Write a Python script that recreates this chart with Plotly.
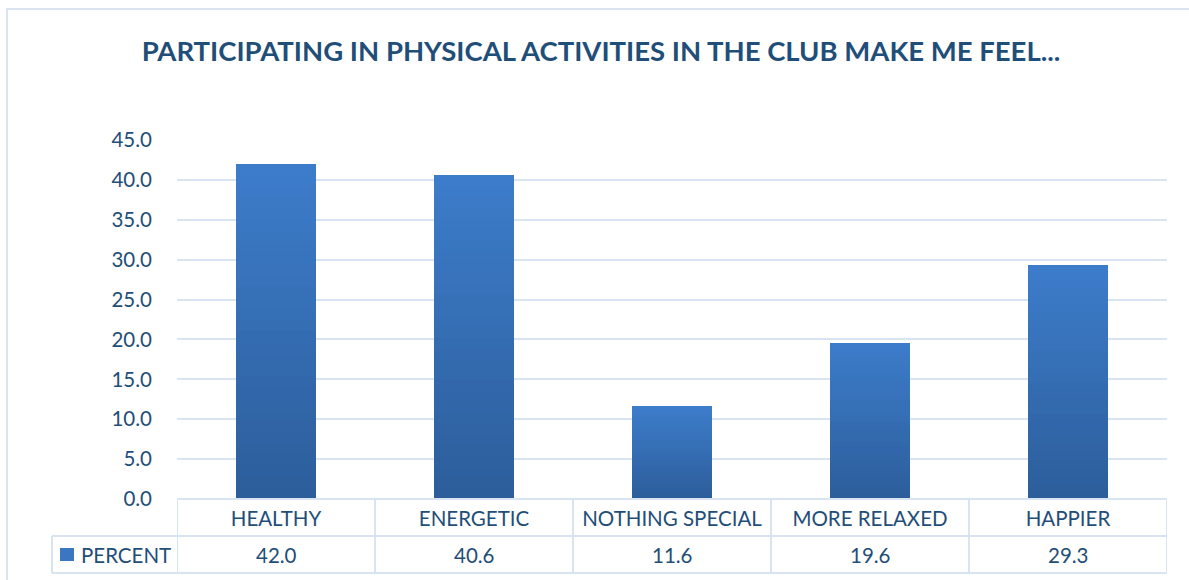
import plotly.graph_objects as go

# Survey responses: share of members reporting each feeling
categories = ["HEALTHY", "ENERGETIC", "NOTHING SPECIAL", "MORE RELAXED", "HAPPIER"]
percent = [42.0, 40.6, 11.6, 19.6, 29.3]
series_name = "PERCENT"
y_ticks = [0, 5, 10, 15, 20, 25, 30, 35, 40, 45]

W, H = 1189, 580
L, R, T, B = 177, 22, 140, 81
plot_w = W - L - R
plot_h = H - T - B

TEXT = "#1f4e79"
GRID = "#d9e4f2"
LIGHT = (0x3d, 0x7d, 0xcb)
DARK = (0x2c, 0x5d, 0x9a)
FS = 20.5


def px_x(px):
    return (px - L) / plot_w


def px_y(px):
    return (H - B - px) / plot_h


def mix(f):
    # f = 0 -> bottom (dark), f = 1 -> top (light)
    c = [round(d + (l - d) * f) for l, d in zip(LIGHT, DARK)]
    return "rgb({},{},{})".format(*c)


fig = go.Figure()

# Vertical gradient: full-height light bar, then progressively shorter, darker bars on top
N = 30
for k in range(N):
    scale = 1 - k / N
    fig.add_trace(go.Bar(
        x=categories,
        y=[v * scale for v in percent],
        width=0.4,
        marker=dict(color=mix(1 - (k + 0.5) / N), line=dict(width=0)),
        name=series_name,
        showlegend=False,
        hoverinfo="skip" if k else "x+y",
    ))

# Data table: value row under the category header row
row_h = (536 - 499) / plot_h
for c, v in zip(categories, percent):
    fig.add_annotation(x=c, xref="x", y=-1.5 * row_h, yref="paper",
                       text=f"{v:.1f}", showarrow=False, yanchor="middle",
                       font=dict(size=FS, color=TEXT, family="Lato"))

# Legend key in the table's first column
fig.add_annotation(x=px_x(79), xref="paper", y=-1.5 * row_h, yref="paper",
                   text=series_name, showarrow=False, xanchor="left", yanchor="middle",
                   font=dict(size=FS, color=TEXT, family="Lato"))

shapes = []
line = dict(color=GRID, width=2)
# table horizontal rules
shapes.append(dict(type="line", xref="paper", yref="paper", x0=0, x1=1, y0=0, y1=0, line=line))
shapes.append(dict(type="line", xref="paper", yref="paper", x0=px_x(52), x1=1,
                   y0=-row_h, y1=-row_h, line=line))
shapes.append(dict(type="line", xref="paper", yref="paper", x0=px_x(52), x1=1,
                   y0=-2 * row_h, y1=-2 * row_h, line=line))
# table vertical rules between categories
for i in range(len(categories) + 1):
    shapes.append(dict(type="line", xref="x", yref="paper", x0=i - 0.5, x1=i - 0.5,
                       y0=0, y1=-2 * row_h, line=line))
shapes.append(dict(type="line", xref="paper", yref="paper", x0=px_x(52), x1=px_x(52),
                   y0=-row_h, y1=-2 * row_h, line=line))
# legend swatch
shapes.append(dict(type="rect", xref="paper", yref="paper",
                   x0=px_x(60), x1=px_x(74), y0=px_y(561), y1=px_y(548),
                   fillcolor="#3a76c2", line=dict(width=0)))
# chart frame
shapes.append(dict(type="rect", xref="paper", yref="paper",
                   x0=px_x(7), x1=px_x(1200), y0=px_y(600), y1=px_y(9),
                   line=dict(color="#dae3ef", width=2), fillcolor="rgba(0,0,0,0)"))

fig.update_layout(
    width=W, height=H,
    margin=dict(l=L, r=R, t=T, b=B),
    paper_bgcolor="white", plot_bgcolor="white",
    barmode="overlay",
    bargap=0,
    showlegend=False,
    shapes=shapes,
    title=dict(text="<b>PARTICIPATING IN PHYSICAL ACTIVITIES IN THE CLUB MAKE ME FEEL...</b>",
               x=601 / W, xanchor="center",
               y=1 - 51 / H, yanchor="middle",
               font=dict(size=27.5, color=TEXT, family="Lato")),
    font=dict(family="Lato", color=TEXT, size=FS),
)
fig.update_xaxes(
    type="category", range=[-0.5, len(categories) - 0.5],
    showgrid=False, showline=False, zeroline=False, ticks="",
    tickfont=dict(size=FS, color=TEXT, family="Lato"),
    ticklabelstandoff=5,
)
fig.update_yaxes(
    range=[0, 45], tickvals=y_ticks, tickformat=".1f",
    showgrid=True, gridcolor=GRID, gridwidth=2,
    zeroline=False, showline=False, ticks="",
    tickfont=dict(size=FS, color=TEXT, family="Lato"),
    ticklabelstandoff=24,
)

fig.write_html("out.html")
